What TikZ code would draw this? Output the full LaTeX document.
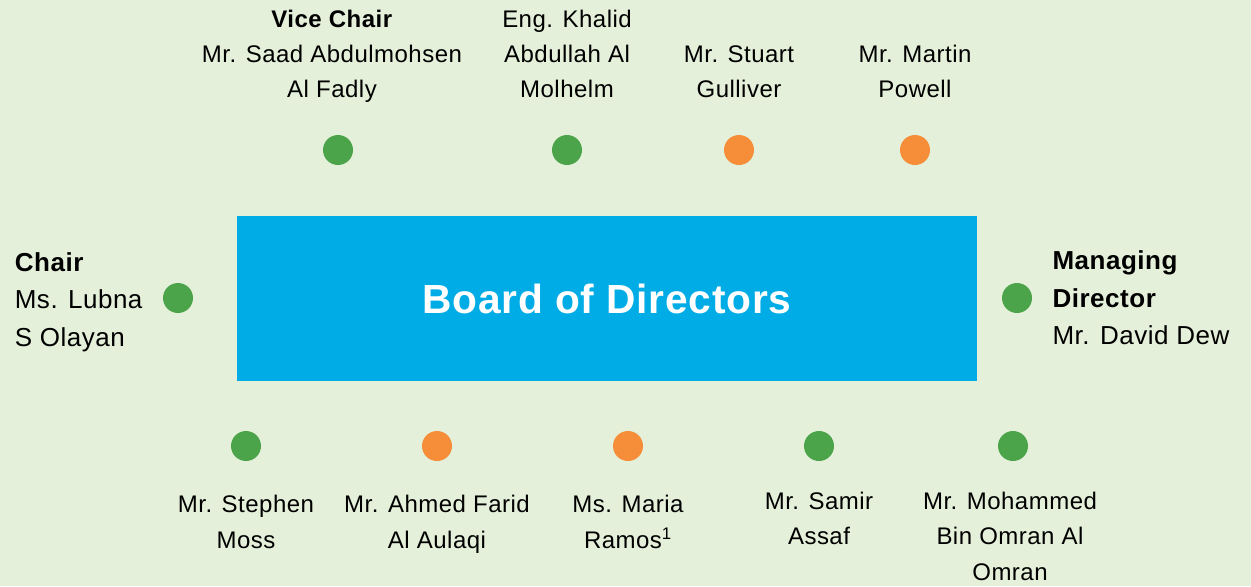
\documentclass[tikz,border=0pt]{standalone}
\usepackage{fontspec}
\setmainfont{Liberation Sans}[LetterSpace=2]
\usetikzlibrary{positioning}
\definecolor{boardBlue}{HTML}{00ACE6}
\definecolor{execGreen}{HTML}{4BA34A}
\definecolor{indepOrange}{HTML}{F68D38}
\definecolor{paleGreen}{HTML}{E4F0D9}
\newcommand{\role}[1]{\textbf{#1}}
\tikzset{
	member/.style={circle,fill=#1,minimum size=22.5pt,inner sep=0pt},
	member/.default=execGreen,
	who/.style={align=center,inner sep=0pt,font=\fontsize{18}{26.5}\selectfont},
	who side/.style={align=left,inner sep=0pt,font=\fontsize{19.5}{28}\selectfont},
	board/.style={fill=boardBlue,minimum width=555pt,minimum height=123.75pt,
		text=white,font=\bfseries\fontsize{30.5}{36}\selectfont}
}

\begin{document}
\begin{tikzpicture}[x=0.75pt,y=-0.75pt]
	\fill[paleGreen] (0,0) rectangle (1251,586);
	\node[board] (bod) at (607,298.5) {Board of Directors};
	% seats above the table
	\node[member] (saad) at (338,150) {};
	\node[member] (khalid) at (567,150) {};
	\node[member=indepOrange] (stuart) at (739,150) {};
	\node[member=indepOrange] (martin) at (915,150) {};
	\node[who,text depth=5pt,above=22.5pt of saad,xshift=-4.5pt] (saad-name) {\role{Vice Chair}\\Mr. Saad Abdulmohsen\\Al Fadly};
	\node[who,text depth=5pt,above=22.5pt of khalid] (khalid-name) {Eng. Khalid\\Abdullah Al\\Molhelm};
	\node[who,text depth=5pt,above=22.5pt of stuart] (stuart-name) {Mr. Stuart\\Gulliver};
	\node[who,text depth=5pt,above=22.5pt of martin] (martin-name) {Mr. Martin\\Powell};
	% ends of the table
	\node[member] (lubna) at (178,298) {};
	\node[member] (dew) at (1017,298) {};
	\node[who side,left=15pt of lubna,yshift=-3pt] (lubna-name) {\role{Chair}\\Ms. Lubna\\S Olayan};
	\node[who side,right=15pt of dew] (dew-name) {\role{Managing}\\\role{Director}\\Mr. David Dew};
	% seats below the table
	\node[member] (stephen) at (246,446) {};
	\node[member=indepOrange] (ahmed) at (437,446) {};
	\node[member=indepOrange] (maria) at (628,446) {};
	\node[member] (samir) at (819,446) {};
	\node[member] (mohammed) at (1013,446) {};
	\node[who,below=25.5pt of stephen] (stephen-name) {Mr. Stephen\\Moss};
	\node[who,below=25.5pt of ahmed] (ahmed-name) {Mr. Ahmed Farid\\Al Aulaqi};
	\node[who,below=25.5pt of maria] (maria-name) {Ms. Maria\\Ramos\textsuperscript{1}};
	\node[who,below=23pt of samir] (samir-name) {Mr. Samir\\Assaf};
	\node[who,below=23pt of mohammed,xshift=-2.25pt] (mohammed-name) {Mr. Mohammed\\Bin Omran Al\\Omran};
\end{tikzpicture}
\end{document}
